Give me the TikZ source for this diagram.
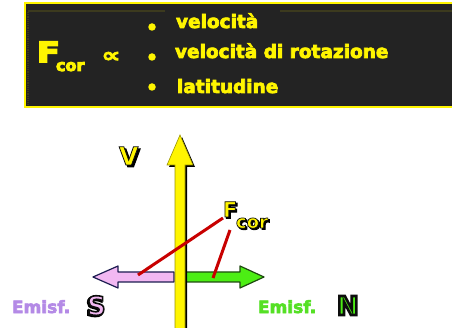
\documentclass[tikz,border=0pt]{standalone}
\usepackage{fontspec}
\setmainfont{DejaVu Sans}
\definecolor{boxbg}{HTML}{232323}
\definecolor{yel}{HTML}{FFF500}
\definecolor{boxline}{HTML}{3C3A1E}
\definecolor{pinkf}{HTML}{F2B8F2}
\definecolor{lav}{HTML}{B48AE6}
\definecolor{grntxt}{HTML}{55E025}
\definecolor{grnf}{HTML}{4CEE14}
\definecolor{grnd}{HTML}{1E4A10}
\definecolor{navy}{HTML}{1C1C50}
\definecolor{redl}{HTML}{C80000}
\newcommand\outl[2]{\special{pdf:literal direct 2 Tr #1 w 0.05 0.05 0.05 RG}#2\special{pdf:literal direct 0 Tr}}
\newcommand\heavy[2]{\special{pdf:literal direct 2 Tr #1 w}#2\special{pdf:literal direct 0 Tr}}
\tikzset{
  txt/.style={inner sep=0pt,outer sep=0pt,font=\bfseries},
  boxtxt/.style={txt,text=yel,font=\bfseries\fontsize{18.5}{20}\selectfont,anchor=base west},
  bul/.style={circle,fill=yel,inner sep=0pt,minimum size=7.5pt},
  forceline/.style={draw=redl,line width=3pt},
  shadowtxt/.style={txt,text=black,anchor=base west},
}
\begin{document}
\begin{tikzpicture}[x=1pt,y=-1pt]
\useasboundingbox (0,0) rectangle (452,328);
\clip (0,0) rectangle (452,328);
% box
\fill[boxbg] (24,2) rectangle (460,108);
\draw[boxline,line width=1.5pt] (28,11) -- (165,11) (280,11) -- (460,11);
\draw[boxline,line width=1.2pt,densely dotted] (28,12) -- (28,105);
\draw[yel,line width=1.6pt] (24.8,2.8) rectangle (462,107.2);
% Fcor in box
\node[txt,text=yel,anchor=base west,font=\bfseries\fontsize{28}{28}\selectfont,xscale=1.2] (bF) at (37,62) {\heavy{1.6}{F}};
\node[txt,text=yel,anchor=base west,font=\bfseries\fontsize{16}{16}\selectfont] (bcor) at (56,71) {\heavy{0.9}{cor}};
\node[txt,text=yel,font=\bfseries\fontsize{20}{20}\selectfont,xscale=1.35] (prop) at (111,57) {\heavy{0.6}{∝}};
% bullets and items
\node[bul] (b1) at (152,27) {};
\node[bul] (b2) at (152,57) {};
\node[bul] (b3) at (152,87) {};
\node[boxtxt] (t1) at (176,28) {\heavy{0.7}{velocità}};
\node[boxtxt] (t2) at (175,58) {\heavy{0.7}{velocità di rotazione}};
\node[boxtxt] (t3) at (177,93) {\heavy{0.7}{latitudine}};
% horizontal arrows
\draw[fill=pinkf,draw=navy,line width=1.2pt,line join=round]
  (93,277) -- (118,266) -- (118,272) -- (174,272) -- (174,282) -- (118,282) -- (118,288) -- cycle;
\draw[fill=grnf,draw=grnd,line width=1.2pt,line join=round]
  (186,272) -- (240,272) -- (240,266) -- (264,277) -- (240,288) -- (240,282) -- (186,282) -- cycle;
% vertical yellow arrow
\fill[black] (177,330) -- (177,167) -- (169,167) -- (182,137) -- (195,167) -- (187,167) -- (187,330) -- cycle;
\draw[fill=yel,draw=black!40!yel,line width=0.6pt]
  (175,330) -- (175,165) -- (167,165) -- (180,135) -- (193,165) -- (185,165) -- (185,330) -- cycle;
% V label
\node[shadowtxt,font=\bfseries\fontsize{25}{25}\selectfont] (Vs) at (121,167) {\heavy{1}{V}};
\node[txt,text=yel,anchor=base west,font=\bfseries\fontsize{25}{25}\selectfont] (V) at (119,165) {\outl{0.8}{V}};
% Fcor label
\node[shadowtxt,font=\bfseries\fontsize{21}{21}\selectfont] (Fs) at (224.5,218.5) {\heavy{1}{F}};
\node[txt,text=yel,anchor=base west,font=\bfseries\fontsize{21}{21}\selectfont] (F) at (223,217) {\outl{0.8}{F}};
\node[shadowtxt,font=\bfseries\fontsize{18}{18}\selectfont] (cors) at (237.5,229.5) {\heavy{0.9}{cor}};
\node[txt,text=yel,anchor=base west,font=\bfseries\fontsize{18}{18}\selectfont] (cor) at (236,228) {\outl{0.7}{cor}};
% red lines
\coordinate (p1) at (223,218);
\coordinate (q1) at (138,275);
\coordinate (p2) at (230,230);
\coordinate (q2) at (213,278);
\draw[forceline] (p1) -- (q1);
\draw[forceline] (p2) -- (q2);
% Emisf labels
\node[txt,text=lav,anchor=base west,font=\bfseries\fontsize{17}{17}\selectfont] (es) at (12,313) {\heavy{0.6}{Emisf.}};
\node[shadowtxt,font=\bfseries\fontsize{26}{26}\selectfont] (Ss) at (86,316) {\heavy{2}{S}};
\node[txt,text=pinkf,anchor=base west,font=\bfseries\fontsize{26}{26}\selectfont] (S) at (87,315) {\outl{1.6}{S}};
\node[txt,text=grntxt,anchor=base west,font=\bfseries\fontsize{17}{17}\selectfont] (en) at (258,313) {\heavy{0.6}{Emisf.}};
\node[txt,text=grnf,anchor=base west,font=\bfseries\fontsize{26}{26}\selectfont] (N) at (337,315) {\outl{2.6}{N}};
\end{tikzpicture}
\end{document}
